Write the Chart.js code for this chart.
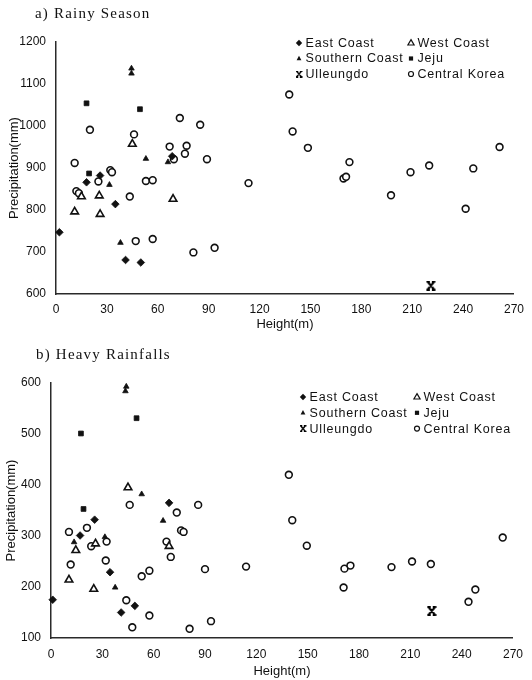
<!DOCTYPE html>
<html>
<head>
<meta charset="utf-8">
<title>Precipitation vs Height</title>
<script src="https://cdn.jsdelivr.net/npm/chart.js@4.4.1/dist/chart.umd.min.js"></script>
<style>
  body { margin: 0; background: #fff; }
  canvas { position: absolute; left: 0; }
</style>
</head>
<body>
<canvas id="rainyChart" style="top:0" width="532" height="340"></canvas>
<canvas id="heavyChart" style="top:340px" width="532" height="340"></canvas>
<script>
const seriesNames = ['East Coast', 'West Coast', 'Southern Coast', 'Jeju', 'Ulleungdo', 'Central Korea'];
const xTicks = [0, 30, 60, 90, 120, 150, 180, 210, 240, 270];
const rainyYTicks = [600, 700, 800, 900, 1000, 1100, 1200];
const heavyYTicks = [100, 200, 300, 400, 500, 600];

// a) Rainy Season  -  [height (m), precipitation (mm)]
const rainyEast = [[2, 747], [18, 866], [26, 882], [35, 814], [41, 681], [50, 675], [68.5, 928]];
const rainyWest = [[11, 796], [15, 832], [25.5, 834], [26, 790], [45, 957], [69, 826]];
const rainySouth = [[44.5, 1137], [44.5, 1125], [31.5, 860], [38, 722], [53, 922], [66, 914]];
const rainyJeju = [[18, 1054], [49.5, 1040], [19.5, 887]];
const rainyUlleung = [[221, 620]];
const rainyCentral = [[20, 991], [46, 980], [73, 1019], [85, 1003], [67, 951], [77, 953], [76, 934],
  [89, 921], [69.5, 921], [11, 912], [25, 868], [32, 895], [33, 890], [53, 869], [57, 871],
  [113.5, 864], [12, 845], [13.5, 840], [43.5, 832], [47, 726], [57, 731], [81, 699], [93.5, 710],
  [137.5, 1075], [139.5, 987], [148.5, 948], [173, 914], [169.5, 875], [171, 879], [197.5, 835],
  [209, 890], [220, 906], [246, 899], [241.5, 803], [261.5, 950]];

// b) Heavy Rainfalls
const heavyEast = [[1, 175], [17, 301], [25.5, 332], [34.5, 229], [41, 150], [49, 163], [69, 365]];
const heavyWest = [[10.5, 214], [14.5, 272], [25, 196], [26, 285], [45, 395], [69, 280]];
const heavySouth = [[44, 593], [43.5, 584], [13.5, 288], [31.5, 298], [37.5, 199], [53, 382], [65.5, 330]];
const heavyJeju = [[17.5, 501], [50, 531], [19, 353]];
const heavyUlleung = [[222.5, 153]];
const heavyCentral = [[10.5, 308], [21, 316], [23.5, 280], [32.5, 289], [32, 252], [11.5, 244],
  [46, 361], [73.5, 346], [86, 361], [53, 221], [57.5, 232], [44, 174], [57.5, 144], [47.5, 121],
  [81, 118], [93.5, 133], [90, 235], [114, 240], [67.5, 289], [70, 259], [76, 311], [77.5, 308],
  [139, 420], [141, 331], [149.5, 281], [171.5, 236], [175, 242], [171, 199], [199, 239],
  [211, 250], [222, 245], [248, 195], [244, 171], [264, 297]];

const ink = '#111';
const sans = '"Liberation Sans", Arial, sans-serif';

// ulleungdo marker: an X with little caps top and bottom
function makeUlleungMark() {
  const c = document.createElement('canvas');
  c.width = 10; c.height = 10;
  const g = c.getContext('2d');
  g.strokeStyle = '#000';
  g.lineWidth = 2;
  g.beginPath();
  g.moveTo(2, 1.5); g.lineTo(8, 8.5);
  g.moveTo(8, 1.5); g.lineTo(2, 8.5);
  g.moveTo(0.5, 1); g.lineTo(4, 1); g.moveTo(6, 1); g.lineTo(9.5, 1);
  g.moveTo(0.5, 9); g.lineTo(4, 9); g.moveTo(6, 9); g.lineTo(9.5, 9);
  g.stroke();
  return c;
}
const ulleungMark = makeUlleungMark();

const marks = [
  { style: 'rectRot', r: 3.8, fill: true },
  { style: 'triangle', r: 4.4, fill: false },
  { style: 'triangle', r: 3.2, fill: true },
  { style: 'rect', r: 3.4, fill: true },
  { style: ulleungMark, r: 5, fill: true },
  { style: 'circle', r: 3.4, fill: false },
];

// legend marker, drawn by hand
function drawMarker(ctx, i, x, y) {
  ctx.beginPath();
  ctx.lineWidth = 1.2;
  if (i === 0) {
    ctx.moveTo(x, y - 3.2); ctx.lineTo(x + 3.2, y); ctx.lineTo(x, y + 3.2); ctx.lineTo(x - 3.2, y);
    ctx.closePath(); ctx.fill();
  } else if (i === 1) {
    ctx.moveTo(x, y - 3.4); ctx.lineTo(x + 3.1, y + 2); ctx.lineTo(x - 3.1, y + 2);
    ctx.closePath(); ctx.stroke();
  } else if (i === 2) {
    ctx.moveTo(x, y - 2.7); ctx.lineTo(x + 2.4, y + 1.7); ctx.lineTo(x - 2.4, y + 1.7);
    ctx.closePath(); ctx.fill();
  } else if (i === 3) {
    ctx.rect(x - 2.1, y - 2.1, 4.2, 4.2); ctx.fill();
  } else if (i === 4) {
    ctx.drawImage(ulleungMark, x - 3.5, y - 3.5, 7, 7);
  } else {
    ctx.arc(x, y, 2.5, 0, Math.PI * 2); ctx.stroke();
  }
}

const panelText = {
  id: 'panelText',
  afterDraw(chart, args, opts) {
    const ctx = chart.ctx;
    ctx.save();
    ctx.fillStyle = ink;
    ctx.strokeStyle = ink;
    ctx.textBaseline = 'middle';
    ctx.font = '15px "Liberation Serif", "Times New Roman", serif';
    ctx.letterSpacing = '1.2px';
    ctx.fillText(opts.title, opts.titleX, opts.titleY);

    ctx.font = '12.5px ' + sans;
    ctx.letterSpacing = '0.8px';
    chart.data.datasets.forEach((ds, i) => {
      const x = opts.legendX + (i % 2) * opts.colGap;
      const y = opts.legendY + Math.floor(i / 2) * opts.rowGap;
      drawMarker(ctx, i, x, y);
      ctx.fillText(ds.label, x + 6.5, y + 0.5);
    });
    ctx.restore();
  }
};

function makePanel(id, groups, yTicks, p) {
  const datasets = groups.map((pts, i) => ({
    label: seriesNames[i],
    data: pts.map(d => ({ x: d[0], y: d[1] })),
    pointStyle: marks[i].style,
    pointRadius: marks[i].r,
    pointBackgroundColor: marks[i].fill ? ink : '#fff',
    pointBorderColor: ink,
    pointBorderWidth: marks[i].fill ? 0.8 : 1.6,
    showLine: false,
    clip: false
  }));

  return new Chart(document.getElementById(id), {
    type: 'scatter',
    data: { datasets },
    plugins: [panelText],
    options: {
      responsive: false,
      devicePixelRatio: 1,
      animation: false,
      events: [],
      layout: { padding: { top: p.top, right: p.right, left: 0, bottom: 0 } },
      plugins: {
        legend: { display: false },
        tooltip: { enabled: false },
        panelText: p.text
      },
      scales: {
        x: {
          type: 'linear',
          min: xTicks[0],
          max: xTicks[xTicks.length - 1],
          afterBuildTicks: s => { s.ticks = xTicks.map(v => ({ value: v })); },
          afterFit: s => { s.height = p.xHeight; },
          grid: { display: false, drawTicks: false },
          border: { display: true, color: '#2a2a2a', width: 1.5 },
          ticks: { color: ink, padding: p.xPad, font: { family: sans, size: 12 }, callback: v => String(v) },
          title: {
            display: true, text: 'Height(m)', color: ink,
            font: { family: sans, size: 13 }, padding: { top: 0, bottom: p.xTitlePad }
          }
        },
        y: {
          type: 'linear',
          min: yTicks[0],
          max: yTicks[yTicks.length - 1],
          afterBuildTicks: s => { s.ticks = yTicks.map(v => ({ value: v })); },
          afterFit: s => { s.width = p.yWidth; },
          grid: { display: false, drawTicks: false },
          border: { display: true, color: '#2a2a2a', width: 1.5 },
          ticks: { color: ink, padding: 10, font: { family: sans, size: 12 }, callback: v => String(v) },
          title: {
            display: true, text: 'Precipitation(mm)', color: ink,
            font: { family: sans, size: 13 }, padding: { top: p.yTitlePad, bottom: 0 }
          }
        }
      }
    }
  });
}

makePanel('rainyChart',
  [rainyEast, rainyWest, rainySouth, rainyJeju, rainyUlleung, rainyCentral],
  rainyYTicks,
  {
    top: 42, right: 11, xHeight: 46, yWidth: 56, xPad: 8, xTitlePad: 8, yTitlePad: 7,
    text: { title: 'a) Rainy Season', titleX: 35, titleY: 14,
            legendX: 299, legendY: 43, colGap: 112, rowGap: 15.5 }
  });

makePanel('heavyChart',
  [heavyEast, heavyWest, heavySouth, heavyJeju, heavyUlleung, heavyCentral],
  heavyYTicks,
  {
    top: 43, right: 13, xHeight: 42, yWidth: 51, xPad: 9, xTitlePad: 1, yTitlePad: 4,
    text: { title: 'b) Heavy Rainfalls', titleX: 36, titleY: 15,
            legendX: 303, legendY: 57, colGap: 114, rowGap: 15.8 }
  });
</script>
</body>
</html>
